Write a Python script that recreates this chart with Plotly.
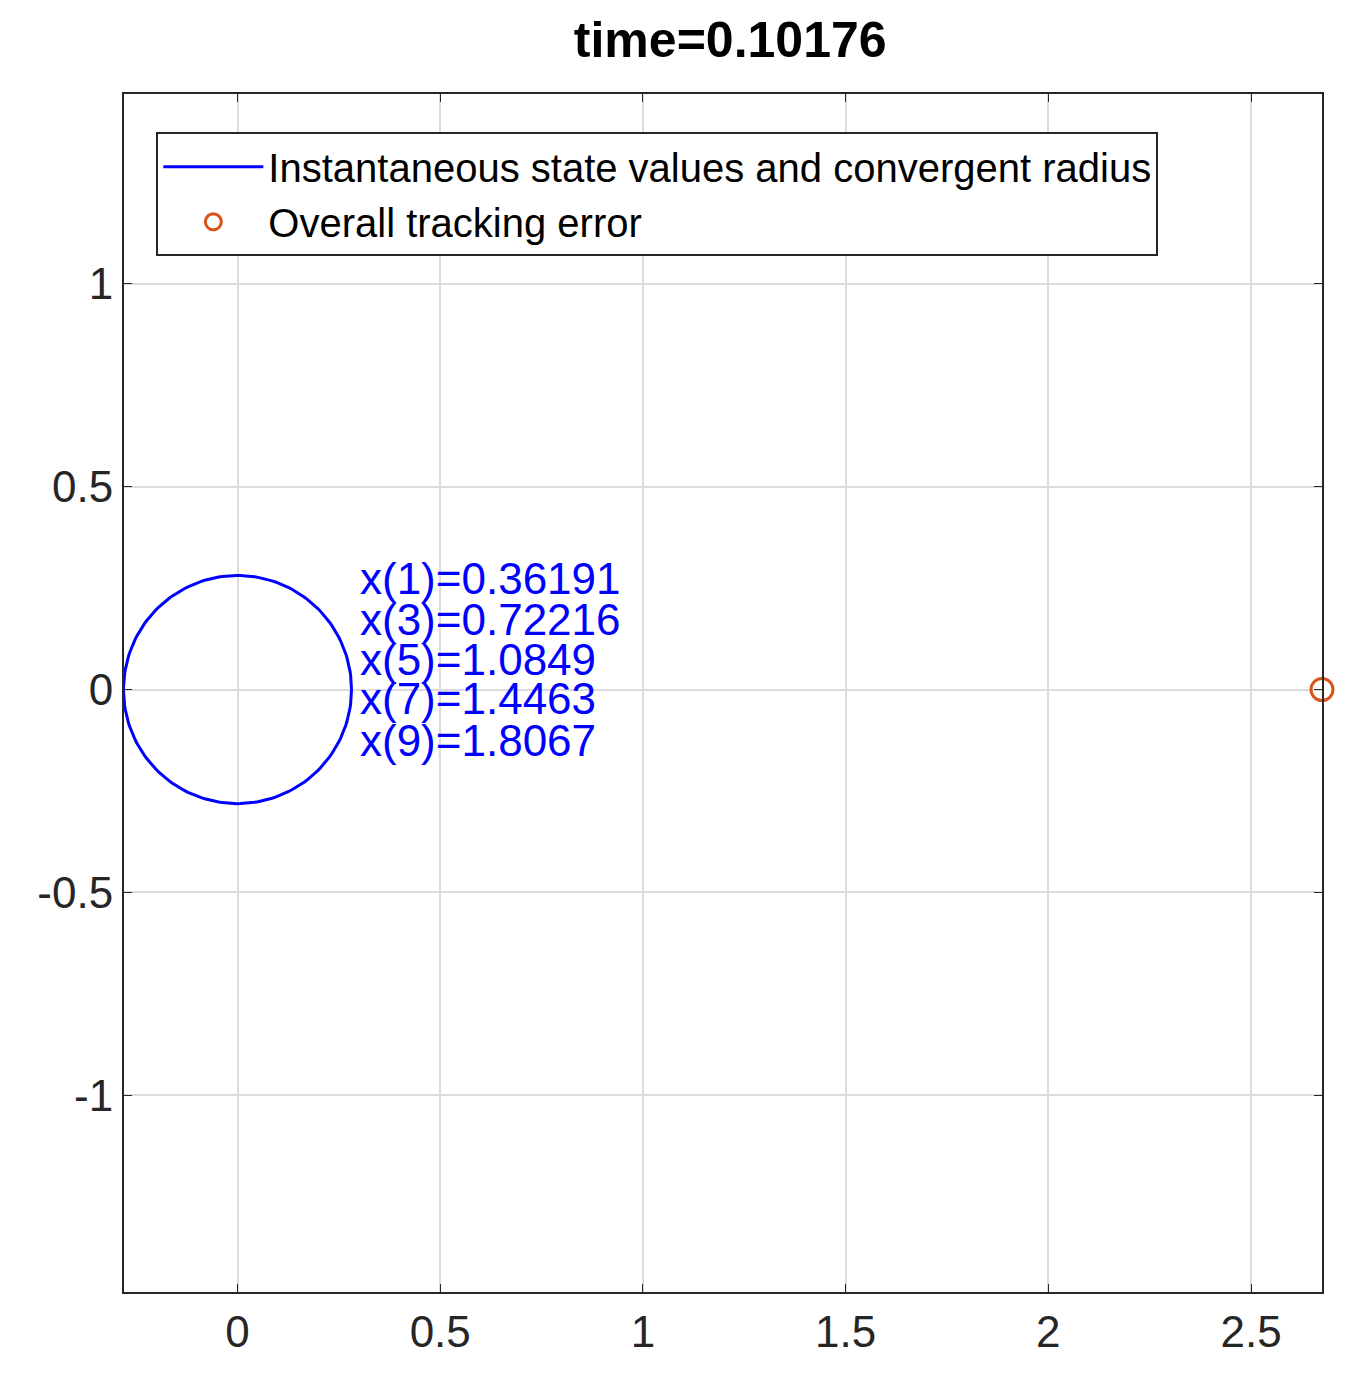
import numpy as np
import plotly.graph_objects as go

radius = 0.2812
error_x = 2.675
labels = ["x(1)=0.36191", "x(3)=0.72216", "x(5)=1.0849", "x(7)=1.4463", "x(9)=1.8067"]
label_y = [0.273, 0.172, 0.074, -0.022, -0.126]
label_x = 0.298

theta = np.linspace(0, 2 * np.pi, 200)

fig = go.Figure()
fig.add_trace(go.Scatter(x=radius * np.cos(theta), y=radius * np.sin(theta), mode="lines",
                         line=dict(color="#0000ff", width=3),
                         name="Instantaneous state values and convergent radius"))
fig.add_trace(go.Scatter(x=[error_x], y=[0], mode="markers",
                         marker=dict(symbol="circle-open", size=22, color="#d95319", line=dict(width=3)),
                         name="Overall tracking error", cliponaxis=False))
for t, yy in zip(labels, label_y):
    fig.add_annotation(x=label_x, y=yy, text=t, showarrow=False, xanchor="left",
                       font=dict(color="#0000ff", size=44, family="Liberation Sans"))

ax = dict(showline=True, linecolor="#262626", linewidth=2, mirror="ticks", ticks="inside",
          ticklen=8, tickcolor="#262626", showgrid=True, gridcolor="#dcdcdc", gridwidth=1.5,
          zeroline=False, tickfont=dict(size=44, color="#262626"))
fig.update_layout(
    width=1355, height=1389, plot_bgcolor="white", paper_bgcolor="white",
    font=dict(family="Liberation Sans"),
    margin=dict(l=116, r=41, t=86, b=105),
    title=dict(text="<b>time=0.10176</b>", x=0.533, xanchor="center", y=0.99, yanchor="top",
               font=dict(size=50, color="black")),
    xaxis=dict(range=[-0.28, 2.675], tickvals=[0, 0.5, 1, 1.5, 2, 2.5],
               ticktext=["0", "0.5", "1", "1.5", "2", "2.5"], **ax),
    yaxis=dict(range=[-1.485, 1.468], tickvals=[-1, -0.5, 0, 0.5, 1],
               ticktext=["-1", "-0.5", "0", "0.5", "1"], **ax),
    legend=dict(x=0.027, y=0.968, xanchor="left", yanchor="top", bgcolor="white",
                bordercolor="#262626", borderwidth=2, font=dict(size=40, color="black"),
                itemwidth=100),
)
fig.write_html("out.html")
